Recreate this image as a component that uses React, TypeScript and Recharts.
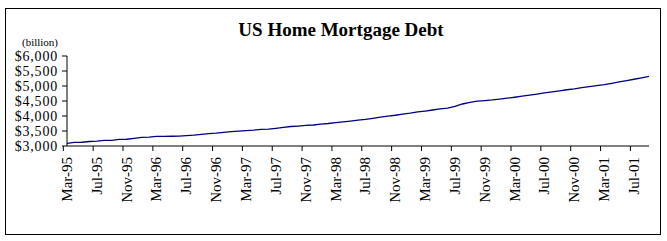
import React from 'react';
import { ComposedChart, Line, XAxis, YAxis } from 'recharts';

const months: string[] = [
  'Mar-95','Apr-95','May-95','Jun-95','Jul-95','Aug-95','Sep-95','Oct-95','Nov-95','Dec-95',
  'Jan-96','Feb-96','Mar-96','Apr-96','May-96','Jun-96','Jul-96','Aug-96','Sep-96','Oct-96','Nov-96','Dec-96',
  'Jan-97','Feb-97','Mar-97','Apr-97','May-97','Jun-97','Jul-97','Aug-97','Sep-97','Oct-97','Nov-97','Dec-97',
  'Jan-98','Feb-98','Mar-98','Apr-98','May-98','Jun-98','Jul-98','Aug-98','Sep-98','Oct-98','Nov-98','Dec-98',
  'Jan-99','Feb-99','Mar-99','Apr-99','May-99','Jun-99','Jul-99','Aug-99','Sep-99','Oct-99','Nov-99','Dec-99',
  'Jan-00','Feb-00','Mar-00','Apr-00','May-00','Jun-00','Jul-00','Aug-00','Sep-00','Oct-00','Nov-00','Dec-00',
  'Jan-01','Feb-01','Mar-01','Apr-01','May-01','Jun-01','Jul-01','Aug-01','Sep-01',
];

const debt: number[] = [
  3090, 3120, 3125, 3150, 3160, 3185, 3190, 3220, 3225, 3255,
  3285, 3295, 3320, 3322, 3325, 3328, 3345, 3360, 3390, 3415, 3430, 3455,
  3480, 3495, 3515, 3530, 3555, 3565, 3590, 3620, 3650, 3665, 3685, 3700,
  3730, 3750, 3780, 3805, 3830, 3860, 3885, 3920, 3960, 3995, 4025, 4065,
  4095, 4135, 4165, 4200, 4235, 4265, 4320, 4400, 4455, 4495, 4515, 4535,
  4565, 4595, 4625, 4660, 4695, 4730, 4770, 4805, 4840, 4875, 4905, 4945,
  4980, 5010, 5045, 5090, 5135, 5180, 5225, 5270, 5320,
];

const yTicks: number[] = [3000, 3500, 4000, 4500, 5000, 5500, 6000];

const title = 'US Home Mortgage Debt';
const unitLabel = '(billion)';

const data = months.map((m, i) => ({ m, v: debt[i] }));

const W = 667;
const H = 241;
const PLOT_LEFT = 67;
const PLOT_RIGHT = 649;
const PLOT_TOP = 56;
const PLOT_BOTTOM = 146;
const PLOT_W = PLOT_RIGHT - PLOT_LEFT;
const X_AXIS_H = 60;
const TICK_SIZE = 5;
const TICK_MARGIN = 6;
const FONT = '"Liberation Serif", "DejaVu Serif", serif';

const fmt = (v: number) => '$' + v.toLocaleString('en-US');

const XTick = (props: any) => {
  const { x, y, payload } = props;
  const bw = PLOT_W / months.length;
  const axisY = y - TICK_SIZE - TICK_MARGIN;
  const tx = x - bw / 2;
  return (
    <g>
      <line x1={tx} y1={axisY} x2={tx} y2={axisY + TICK_SIZE} stroke="#000" strokeWidth={1} />
      <text
        x={x}
        y={y}
        dy="0.33em"
        transform={`rotate(-90 ${x} ${y})`}
        textAnchor="end"
        fontFamily={FONT}
        fontSize={15}
        fill="#000"
      >
        {payload.value}
      </text>
    </g>
  );
};

const YTick = (props: any) => {
  const { x, y, payload } = props;
  return (
    <text
      x={x}
      y={y}
      dy="0.35em"
      textAnchor="end"
      fontFamily={FONT}
      fontSize={14}
      letterSpacing={0.8}
      fill="#000"
    >
      {fmt(payload.value)}
    </text>
  );
};

export default function App() {
  return (
    <div style={{ position: 'absolute', left: 0, top: 0, width: W, height: H, background: '#fff' }}>
      <ComposedChart
        width={W}
        height={H}
        data={data}
        margin={{ top: PLOT_TOP, right: W - PLOT_RIGHT, left: 0, bottom: H - PLOT_BOTTOM - X_AXIS_H }}
      >
        <XAxis
          dataKey="m"
          type="category"
          interval={3}
          height={X_AXIS_H}
          tickLine={false}
          tickSize={TICK_SIZE}
          tickMargin={TICK_MARGIN}
          axisLine={{ stroke: '#000', strokeWidth: 1 }}
          tick={<XTick />}
        />
        <YAxis
          type="number"
          domain={[3000, 6000]}
          ticks={yTicks}
          width={PLOT_LEFT}
          tickSize={5}
          tickMargin={4}
          tickLine={{ stroke: '#000' }}
          axisLine={{ stroke: '#000', strokeWidth: 1 }}
          tick={<YTick />}
          interval={0}
        />
        <Line
          dataKey="v"
          type="linear"
          stroke="#000080"
          strokeWidth={1.3}
          dot={false}
          isAnimationActive={false}
        />
      </ComposedChart>
      <svg
        width={W}
        height={H}
        style={{ position: 'absolute', left: 0, top: 0, pointerEvents: 'none' }}
      >
        <rect x={5.5} y={8.5} width={655} height={226} fill="none" stroke="#000" strokeWidth={1} />
        <text x={341} y={36} textAnchor="middle" fontFamily={FONT} fontWeight="bold" fontSize={19} fill="#000">
          {title}
        </text>
        <text x={40} y={46} textAnchor="middle" fontFamily={FONT} fontSize={11} fill="#000">
          {unitLabel}
        </text>
      </svg>
    </div>
  );
}
